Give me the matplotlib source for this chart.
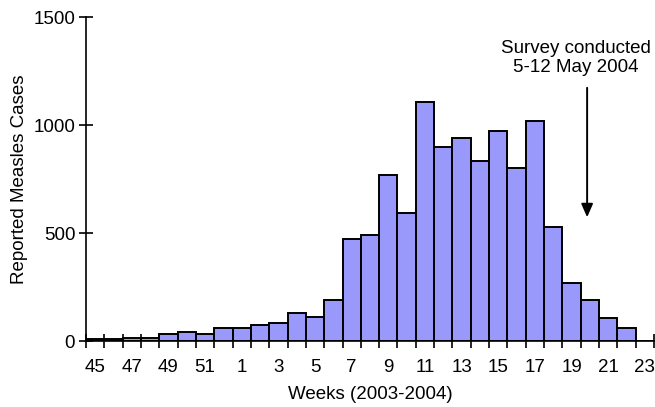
import matplotlib
matplotlib.use("Agg")
import matplotlib.pyplot as plt
import numpy as np

plt.rcParams['font.family'] = ['Liberation Sans', 'DejaVu Sans']

weeks = [45, 46, 47, 48, 49, 50, 51, 52] + list(range(1, 24))
cases = [8, 10, 15, 15, 33, 41, 32, 58, 62, 74, 85, 128, 113, 188,
         470, 490, 768, 591, 1105, 897, 941, 833, 972, 799, 1017,
         529, 267, 190, 106, 62, 0]
label_every = 2
annot_text = "Survey conducted\n5-12 May 2004"

FS = 13.5

fig = plt.figure(figsize=(6.55, 4.07), dpi=100)
ax = fig.add_axes([86/655, 66/407, 568/655, 324/407])

x = np.arange(len(weeks))
ax.bar(x, cases, width=1.0, color='#9999fc', edgecolor='black', linewidth=1.4)

ax.set_xlim(-0.5, len(weeks) - 0.5)
ax.set_ylim(0, 1500)
ax.set_yticks([0, 500, 1000, 1500])

# tick marks at bar edges, labels at every other bar centre
ax.set_xticks(np.arange(len(weeks) + 1) - 0.5)
ax.set_xticklabels([])
ax.set_xticks(x[::label_every], minor=True)
ax.set_xticklabels([str(w) for w in weeks[::label_every]], minor=True)
ax.tick_params(axis='x', which='major', direction='inout', length=9.5, width=1.2)
ax.tick_params(axis='x', which='minor', length=0, pad=13, labelsize=FS)
ax.tick_params(axis='y', direction='inout', length=9.5, width=1.2, labelsize=FS, pad=3)

for s in ['top', 'right']:
    ax.spines[s].set_visible(False)
for s in ['left', 'bottom']:
    ax.spines[s].set_linewidth(1.2)

ax.set_ylabel('Reported Measles Cases', fontsize=FS, labelpad=3.5)
ax.set_xlabel('Weeks (2003-2004)', fontsize=FS, labelpad=7)

arrow_x = 26.85
ax.annotate('', xy=(arrow_x, 560), xytext=(arrow_x, 1185),
            arrowprops=dict(arrowstyle='-|>,head_width=0.35,head_length=0.8',
                            color='black', lw=1.4))
ax.text(26.25, 1308, annot_text, ha='center', va='center', fontsize=FS,
        linespacing=1.15)

fig.savefig('out.png', dpi=100)
